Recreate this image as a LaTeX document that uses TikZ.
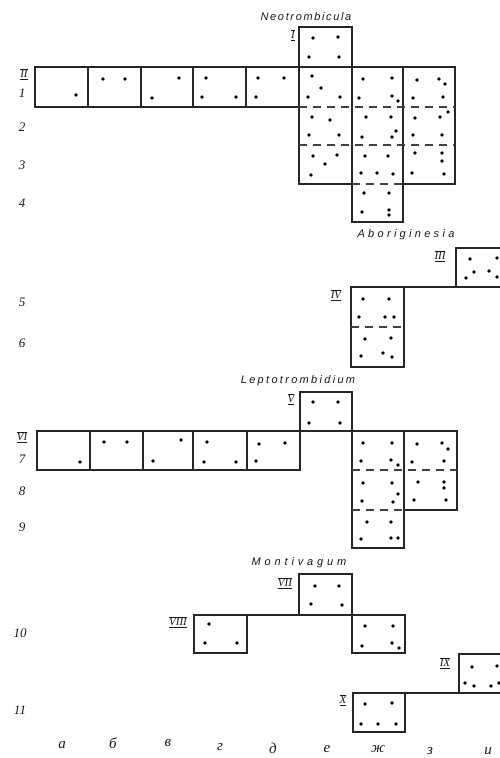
\documentclass[tikz,border=0pt]{standalone}
\usepackage{fontspec}
\setmainfont{Liberation Serif}
\newfontfamily\gsans{Liberation Sans}
\newcommand\romlab[1]{$\overline{\underline{\mathit{#1}}}$}
\tikzset{
 cell/.style={draw=black!85, line width=1.2pt},
 sep/.style={draw=black!75, line width=1.2pt, dash pattern=on 8pt off 6pt},
 dot/.style={fill=black},
 rowno/.style={font=\itshape\fontsize{13}{13}\selectfont, inner sep=0pt, text=black!90},
 colno/.style={font=\itshape\fontsize{15}{15}\selectfont, inner sep=0pt, text=black!90},
 roman/.style={font=\fontsize{11}{11}\selectfont, inner sep=0pt, text=black!90},
 genus/.style={font=\gsans\itshape\fontsize{11}{11}\selectfont, inner sep=0pt, text=black!90},
}
\begin{document}
\begin{tikzpicture}[x=1pt,y=-1pt]
\useasboundingbox (0,0) rectangle (500,758);
\clip (0,0) rectangle (500,758);
\fill[white] (0,0) rectangle (500,758);

% ---------- Neotrombicula ----------
\node[genus] (gNeo) at (306,17) {\addfontfeature{LetterSpace=15}Neotrombicula};
\draw[cell] (35,67) rectangle (299,107);
\foreach \xx in {88,141,193,246} \draw[cell] (\xx,67) -- (\xx,107);
\draw[cell] (299,27) rectangle (352,184);
\draw[cell] (299,67) -- (352,67);
\draw[cell] (352,67) rectangle (403,222);
\draw[cell] (403,67) rectangle (455,184);
\draw[sep] (299,107) -- (455,107);
\draw[sep] (299,145) -- (455,145);
\draw[sep] (352,184) -- (403,184);
\foreach \xx/\yy in {313/38,338/37,309/57,339/57,
  76/95, 103/79,125/79, 179/78,152/98, 206/78,202/97,236/97, 258/78,284/78,256/97,
  312/76,321/88,308/97,340/97, 363/79,392/78,359/98,392/96,398/101,
  417/80,439/79,445/84,413/98,443/97,
  312/117,330/120,309/135,339/135, 366/117,391/117,362/137,392/137,396/131,
  415/118,440/117,448/112,413/135,442/135,
  313/156,337/155,325/164,311/175, 365/156,388/156,361/173,377/173,393/174,
  415/153,442/153,442/161,412/173,444/174,
  364/193,389/193,362/212,389/210,389/215}
  \fill[dot] (\xx,\yy) circle (1.8pt);
\node[roman] (rI) at (293,35) {\romlab{I}};
\node[roman] (rII) at (24,74) {\romlab{II}};

% ---------- Aboriginesia ----------
\node[genus] (gAbo) at (406,235) {\addfontfeature{LetterSpace=30}Aboriginesia};
\draw[cell] (456,248) rectangle (515,287);
\draw[cell] (404,287) -- (456,287);
\draw[cell] (351,287) rectangle (404,367);
\draw[sep] (351,327) -- (404,327);
\foreach \xx/\yy in {470/259,497/258,474/272,489/271,466/278,497/277,
  363/299,389/299,359/317,385/317,394/317,365/339,391/338,361/356,383/353,392/357}
  \fill[dot] (\xx,\yy) circle (1.8pt);
\node[roman] (rIII) at (440,256) {\romlab{III}};
\node[roman] (rIV) at (336,295) {\romlab{IV}};

% ---------- Leptotrombidium ----------
\node[genus] (gLep) at (298,381) {\addfontfeature{LetterSpace=21}Leptotrombidium};
\draw[cell] (300,392) rectangle (352,431);
\draw[cell] (37,431) rectangle (300,470);
\foreach \xx in {90,143,193,247} \draw[cell] (\xx,431) -- (\xx,470);
\draw[cell] (352,431) rectangle (404,548);
\draw[cell] (404,431) rectangle (457,510);
\draw[sep] (352,470) -- (457,470);
\draw[sep] (352,510) -- (404,510);
\foreach \xx/\yy in {313/402,338/402,309/423,340/423,
  80/462, 104/442,127/442, 181/440,153/461, 207/442,204/462,236/462,
  259/444,285/443,256/461,
  363/443,392/443,361/461,391/460,398/465,
  417/444,442/443,448/449,412/462,444/461,
  363/483,392/483,398/494,362/501,393/502,
  418/482,444/482,444/488,414/500,446/500,
  367/522,391/522,361/539,391/538,398/538}
  \fill[dot] (\xx,\yy) circle (1.8pt);
\node[roman] (rV) at (291,399) {\romlab{V}};
\node[roman] (rVI) at (22,437) {\romlab{VI}};

% ---------- Montivagum ----------
\node[genus] (gMon) at (299,563) {\addfontfeature{LetterSpace=35}Montivagum};
\draw[cell] (299,574) rectangle (352,615);
\draw[cell] (194,615) rectangle (247,653);
\draw[cell] (247,615) -- (299,615);
\draw[cell] (352,615) rectangle (405,653);
\draw[cell] (459,654) rectangle (515,693);
\draw[cell] (353,693) rectangle (405,732);
\draw[cell] (405,693) -- (459,693);
\foreach \xx/\yy in {315/586,339/586,311/604,342/605,
  365/626,393/626,362/646,392/643,399/648,
  209/624,205/643,237/643,
  472/667,497/666,465/683,474/686,491/686,499/683,
  365/704,392/703,361/724,378/724,396/724}
  \fill[dot] (\xx,\yy) circle (1.8pt);
\node[roman] (rVII) at (285,583) {\romlab{VII}};
\node[roman] (rVIII) at (178,622) {\romlab{VIII}};
\node[roman] (rIX) at (445,663) {\romlab{IX}};
\node[roman] (rX) at (343,700) {\romlab{X}};

% ---------- row numbers ----------
\node[rowno] (n1) at (22,93) {1};
\node[rowno] (n2) at (22,127) {2};
\node[rowno] (n3) at (22,165) {3};
\node[rowno] (n4) at (22,203) {4};
\node[rowno] (n5) at (22,302) {5};
\node[rowno] (n6) at (22,343) {6};
\node[rowno] (n7) at (22,459) {7};
\node[rowno] (n8) at (22,491) {8};
\node[rowno] (n9) at (22,527) {9};
\node[rowno] (n10) at (20,633) {10};
\node[rowno] (n11) at (20,710) {11};

% ---------- column letters ----------
\node[colno] (ca) at (62,745) {а};
\node[colno] (cb) at (113,743) {б};
\node[colno] (cv) at (168,743) {в};
\node[colno] (cg) at (220,747) {г};
\node[colno] (cd) at (273,748) {д};
\node[colno] (ce) at (327,749) {е};
\node[colno] (czh) at (378,749) {ж};
\node[colno] (cz) at (430,751) {з};
\node[colno] (ci) at (488,751) {и};
\end{tikzpicture}
\end{document}
